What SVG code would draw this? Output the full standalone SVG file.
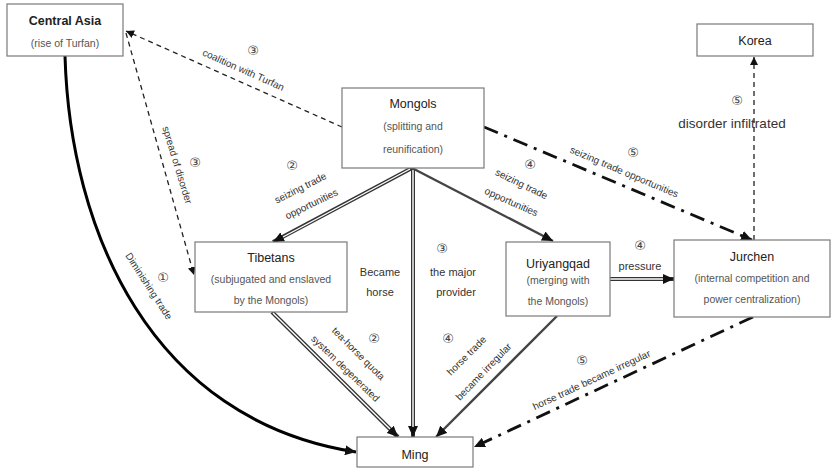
<svg xmlns="http://www.w3.org/2000/svg" width="832" height="469" viewBox="0 0 832 469">
<style>
text{font-family:"Liberation Sans","DejaVu Sans",sans-serif;fill:#333}
.box{fill:#fff;stroke:#7a7a7a;stroke-width:1.2}
.t{font-size:12.5px;fill:#222;text-anchor:middle}
.s{font-size:10.5px;fill:#555;text-anchor:middle}
.l{font-size:10px;text-anchor:middle}
.m{font-size:11px;text-anchor:middle}
.n{font-size:13px;text-anchor:middle;fill:#444}
.dash{fill:none;stroke:#222;stroke-width:1.3;stroke-dasharray:5 4}
.dd{fill:none;stroke:#111;stroke-width:2.8;stroke-dasharray:15 7 3 7}
.dbl{fill:none;stroke:#333;stroke-width:4}
.in{fill:none;stroke:#fff;stroke-width:1.4}
.gr{fill:none;stroke:#444;stroke-width:2.4}
</style>
<defs>
<marker id="a" markerUnits="userSpaceOnUse" markerWidth="12" markerHeight="10" refX="11" refY="5" orient="auto">
<path d="M0,0 L11,5 L0,10 z" fill="#111"/>
</marker>
<marker id="s" markerUnits="userSpaceOnUse" markerWidth="9" markerHeight="8" refX="8" refY="4" orient="auto">
<path d="M0,0 L8,4 L0,8 z" fill="#111"/>
</marker>
</defs>
<g id="connectors">
<path class="dash" d="M342,127 L126,31" marker-end="url(#s)"/>
<path class="dash" d="M126,33 L194,275" marker-end="url(#s)"/>
<path class="dash" d="M754,240 L754,57" stroke-dasharray="4 3" marker-end="url(#s)"/>
<path d="M65,56 C70,230 150,420 356,452" fill="none" stroke="#000" stroke-width="3" marker-end="url(#a)"/>
<path class="dbl" d="M412,168 L273,242" marker-end="url(#a)"/>
<path class="in" d="M410,169 L283,237"/>
<path class="dbl" d="M413,169 L413,437" stroke-width="5" marker-end="url(#a)"/>
<path class="in" d="M413,170 L413,427" stroke-width="1.8"/>
<path class="dbl" d="M272,312 L398,437" marker-end="url(#a)"/>
<path class="in" d="M273,313 L390,429"/>
<path class="gr" d="M412,168 L553,241" marker-end="url(#a)"/>
<path class="gr" d="M557,316 L436,437" marker-end="url(#a)"/>
<path class="dbl" d="M610,279 L674,279" stroke="#444" marker-end="url(#a)"/>
<path class="in" d="M610,279 L663,279" stroke="#aaa"/>
<path class="dd" d="M484,127 L752,240" marker-end="url(#a)"/>
<path class="dd" d="M753,317 L474,447" marker-end="url(#a)"/>
</g>
<g id="central-asia">
<rect class="box" x="7" y="4" width="116" height="52"/>
<text class="t" x="65" y="25" font-weight="bold" font-size="12px">Central Asia</text>
<text class="s" x="65" y="47" fill="#333">(rise of Turfan)</text>
</g>
<g id="mongols">
<rect class="box" x="342" y="88" width="142" height="80"/>
<text class="t" x="413" y="108" font-size="13px">Mongols</text>
<text class="s" x="413" y="130" font-size="12px">(splitting and</text>
<text class="s" x="413" y="153" font-size="12px">reunification)</text>
</g>
<g id="korea">
<rect class="box" x="697" y="24" width="116" height="32"/>
<text class="t" x="755" y="45">Korea</text>
</g>
<g id="tibetans">
<rect class="box" x="195" y="242" width="152" height="70"/>
<text class="t" x="271" y="262">Tibetans</text>
<text class="s" x="271" y="283">(subjugated and enslaved</text>
<text class="s" x="271" y="304">by the Mongols)</text>
</g>
<g id="uriyangqad">
<rect class="box" x="506" y="242" width="104" height="74"/>
<text class="t" x="558" y="268">Uriyangqad</text>
<text class="s" x="558" y="284">(merging with</text>
<text class="s" x="558" y="305">the Mongols)</text>
</g>
<g id="jurchen">
<rect class="box" x="674" y="240" width="156" height="77"/>
<text class="t" x="752" y="261">Jurchen</text>
<text class="s" x="752" y="282">(internal competition and</text>
<text class="s" x="752" y="303">power centralization)</text>
</g>
<g id="ming">
<rect class="box" x="357" y="437" width="116" height="30"/>
<text class="t" x="415" y="459">Ming</text>
</g>
<g id="labels">
<text class="n" x="253" y="55">③</text>
<text class="l" transform="translate(242,73) rotate(24)">coalition with Turfan</text>
<text class="n" x="195" y="167">③</text>
<text class="l" transform="translate(174,166) rotate(73)">spread of disorder</text>
<text class="n" x="163" y="282" fill="#999">①</text>
<text class="l" transform="translate(146,288) rotate(57)">Diminishing trade</text>
<text class="n" x="292" y="170" fill="#888">②</text>
<text class="l" transform="translate(302,191) rotate(-27)">seizing trade</text>
<text class="l" transform="translate(313,207) rotate(-26)">opportunities</text>
<text class="n" x="530" y="169">④</text>
<text class="l" transform="translate(520,187) rotate(26)">seizing trade</text>
<text class="l" transform="translate(510,205) rotate(24)">opportunities</text>
<text class="n" x="633" y="157">⑤</text>
<text class="l" transform="translate(623,175) rotate(23)">seizing trade opportunities</text>
<text class="n" x="737" y="105">⑤</text>
<text x="732" y="128" font-size="13.5px" text-anchor="middle" fill="#222">disorder infiltrated</text>
<text class="n" x="640" y="250">④</text>
<text class="m" x="640" y="270" font-size="10.5px">pressure</text>
<text class="m" x="380" y="276">Became</text>
<text class="m" x="380" y="296">horse</text>
<text class="n" x="442" y="253" fill="#888">③</text>
<text class="m" x="453" y="276">the major</text>
<text class="m" x="456" y="296">provider</text>
<text class="n" x="374" y="343">②</text>
<text class="l" transform="translate(356,356) rotate(45)">tea-horse quota</text>
<text class="l" transform="translate(343,371) rotate(44)">system degenerated</text>
<text class="n" x="448" y="343">④</text>
<text class="l" transform="translate(469,358) rotate(-45)">horse trade</text>
<text class="l" transform="translate(486,374) rotate(-46)">became irregular</text>
<text class="n" x="582" y="365">⑤</text>
<text class="l" transform="translate(593,383) rotate(-25)">horse trade became irregular</text>
</g>
</svg>
